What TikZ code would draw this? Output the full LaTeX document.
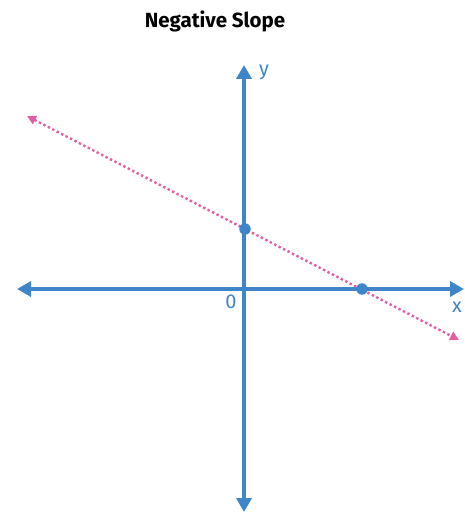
\documentclass[tikz,border=0pt]{standalone}
\usepackage{fontspec}
\setmainfont{Lato}
\newfontfamily\titlefont{Fira Sans}
\usetikzlibrary{arrows.meta}
\definecolor{axisblue}{RGB}{62,134,201}
\definecolor{slopepink}{RGB}{228,92,162}
\begin{document}
\begin{tikzpicture}[x=1pt,y=-1pt,
  axis/.style={axisblue,line width=3.6pt,{Triangle[length=14pt,width=15pt]}-{Triangle[length=14pt,width=15pt]}},
  slope/.style={slopepink,line width=2.4pt,dash pattern=on 2.4pt off 2.6pt,{Triangle[length=9pt,width=9pt]}-{Triangle[length=9pt,width=9pt]}},
  dot/.style={circle,fill=axisblue,inner sep=0pt,minimum size=11.5pt},
  lbl/.style={axisblue,font=\titlefont\fontsize{20}{24}\selectfont}]
\useasboundingbox (0,0) rectangle (465,516);
% title
\node[font=\titlefont\bfseries\fontsize{20.5}{24}\selectfont] (title) at (215,21) {Negative Slope};
% axes
\coordinate (xleft) at (17,289);
\coordinate (xright) at (464,289);
\coordinate (ytop) at (244,65);
\coordinate (ybottom) at (244,512);
\draw[axis] (xleft) -- (xright);
\draw[axis] (ybottom) -- (ytop);
\node[lbl] (ylabel) at (264,72) {y};
\node[lbl] (origin) at (231,302) {0};
\node[lbl] (xlabel) at (457,307) {x};
% the line
\coordinate (lineleft) at (27,116);
\coordinate (lineright) at (459,340);
\draw[slope] (lineleft) -- (lineright);
\node[dot] (yint) at (245,229) {};
\node[dot] (xint) at (362,289) {};
\end{tikzpicture}
\end{document}
